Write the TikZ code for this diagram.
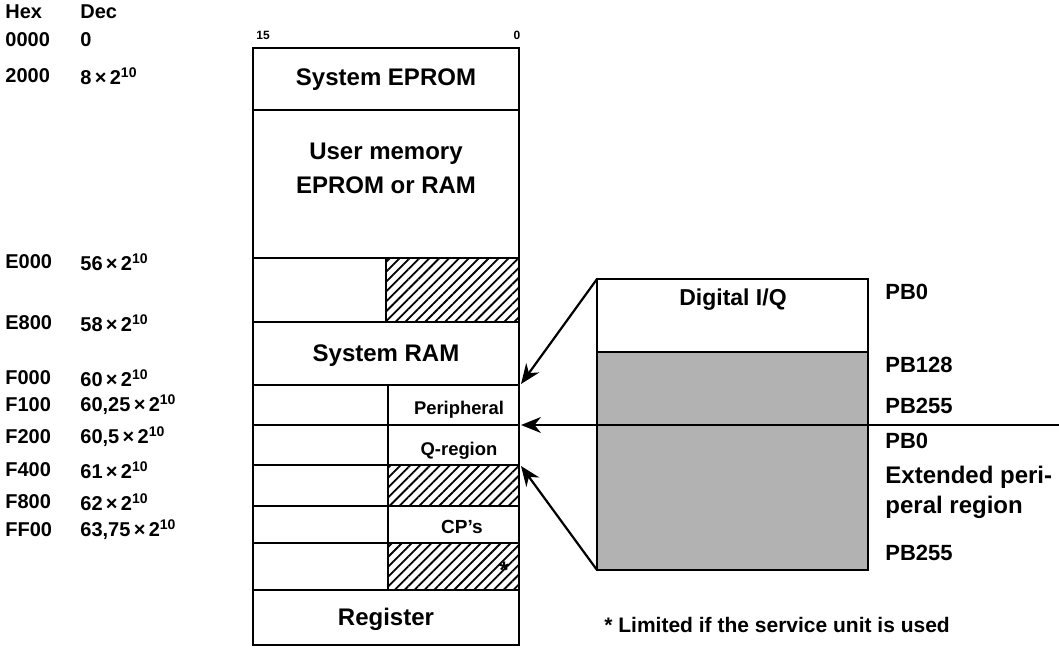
\documentclass[tikz,border=0pt]{standalone}
\usepackage{fontspec}
\setmainfont{Liberation Sans}
\usetikzlibrary{arrows.meta,patterns.meta,positioning}

\begin{document}
\begin{tikzpicture}[x=0.5pt, y=-0.5pt,
    box/.style={draw, line width=1.2pt},
    hatch/.style={box, pattern={Lines[angle=45,distance=3.5pt,line width=0.9pt]}},
    dots/.style={box, fill=gray!60},
    addr/.style={anchor=west, inner sep=0pt, font=\bfseries\fontsize{10}{12}\selectfont},
    cell/.style={align=center, font=\bfseries\fontsize{12}{17}\selectfont},
    small/.style={font=\bfseries\fontsize{9.2}{10}\selectfont},
    pb/.style={anchor=west, inner sep=0pt, align=left, font=\bfseries\fontsize{11}{15}\selectfont},
    ptr/.style={line width=1.1pt, -{Stealth[length=10pt,width=8pt]}}]
  \useasboundingbox (0,0) rectangle (1059,648);

  % address columns
  \node[addr] (hex) at (5,12) {Hex};
  \node[addr] (dec) at (80,12) {Dec};
  \node[addr] (h0) at (5,40) {0000};
  \node[addr] (d0) at (80,40) {0};
  \foreach \y/\h/\d [count=\i] in {76/2000/8, 262/E000/56, 323/E800/58, 378/F000/60,
      405/F100/{60,25}, 437/F200/{60,5}, 470/F400/61, 502/F800/62, 530/FF00/{63,75}} {
    \node[addr] (h\i) at (5,\y) {\h};
    \node[addr] (d\i) at (80,\y) {\d\,×\,2\textsuperscript{10}};
  }

  % bit numbers
  \node[inner sep=0pt, font=\bfseries\fontsize{6}{7}\selectfont] (b15) at (263,35) {15};
  \node[inner sep=0pt, font=\bfseries\fontsize{6}{7}\selectfont] (b0) at (517,35) {0};

  % memory map
  \draw[box] (253,48) rectangle (519,110);
  \draw[box] (253,110) rectangle (519,258);
  \draw[box] (253,258) rectangle (386,322);
  \draw[hatch] (386,258) rectangle (519,322);
  \draw[box] (253,322) rectangle (519,385);
  \foreach \a/\b in {385/425, 425/465, 506/543} {
    \draw[box] (253,\a) rectangle (388,\b);
    \draw[box] (388,\a) rectangle (519,\b);
  }
  \foreach \a/\b in {465/506, 543/590} {
    \draw[box] (253,\a) rectangle (388,\b);
    \draw[hatch] (388,\a) rectangle (519,\b);
  }
  \draw[box] (253,590) rectangle (519,645);

  \node[cell] (sysprom) at (386,80) {System EPROM};
  \node[cell] (user) at (386,168) {User memory\\EPROM or RAM};
  \node[cell] (sysram) at (386,356) {System RAM};
  \node[small] (periph) at (459,410) {Peripheral};
  \node[small] (qreg) at (459,451) {Q-region};
  \node[small, font=\bfseries\fontsize{9.5}{11}\selectfont] (cps) at (462,527) {CP's};
  \node[inner sep=0pt, font=\bfseries\fontsize{12}{12}\selectfont] (star) at (504,570) {*};
  \node[cell] (reg) at (386,619) {Register};

  % peripheral area
  \draw[box] (597,279) rectangle (868,352);
  \draw[dots] (597,352) rectangle (868,570);
  \node[cell, font=\bfseries\fontsize{11.5}{14}\selectfont] (dio) at (733,300) {Digital I/Q};

  \coordinate (dtl) at (597,279);
  \coordinate (dbl) at (597,570);
  \coordinate (busin) at (1059,425);
  \coordinate (ramend) at (521,384);
  \coordinate (perend) at (521,425);
  \coordinate (qend) at (521,466);

  \draw[ptr] (dtl) -- (ramend);
  \draw[ptr] (busin) -- (perend);
  \draw[ptr] (dbl) -- (qend);

  \node[pb] (pb0a) at (885,292) {PB0};
  \node[pb] (pb128) at (885,365) {PB128};
  \node[pb] (pb255a) at (885,406) {PB255};
  \node[pb] (pb0b) at (885,441) {PB0};
  \node[pb, font=\bfseries\fontsize{12}{15}\selectfont] (extp) at (885,492) {Extended peri-\\peral region};
  \node[pb] (pb255b) at (885,553) {PB255};

  \node[anchor=west, inner sep=0pt, font=\bfseries\fontsize{10.5}{12}\selectfont] (note) at (604,625) {* Limited if the service unit is used};
\end{tikzpicture}
\end{document}
